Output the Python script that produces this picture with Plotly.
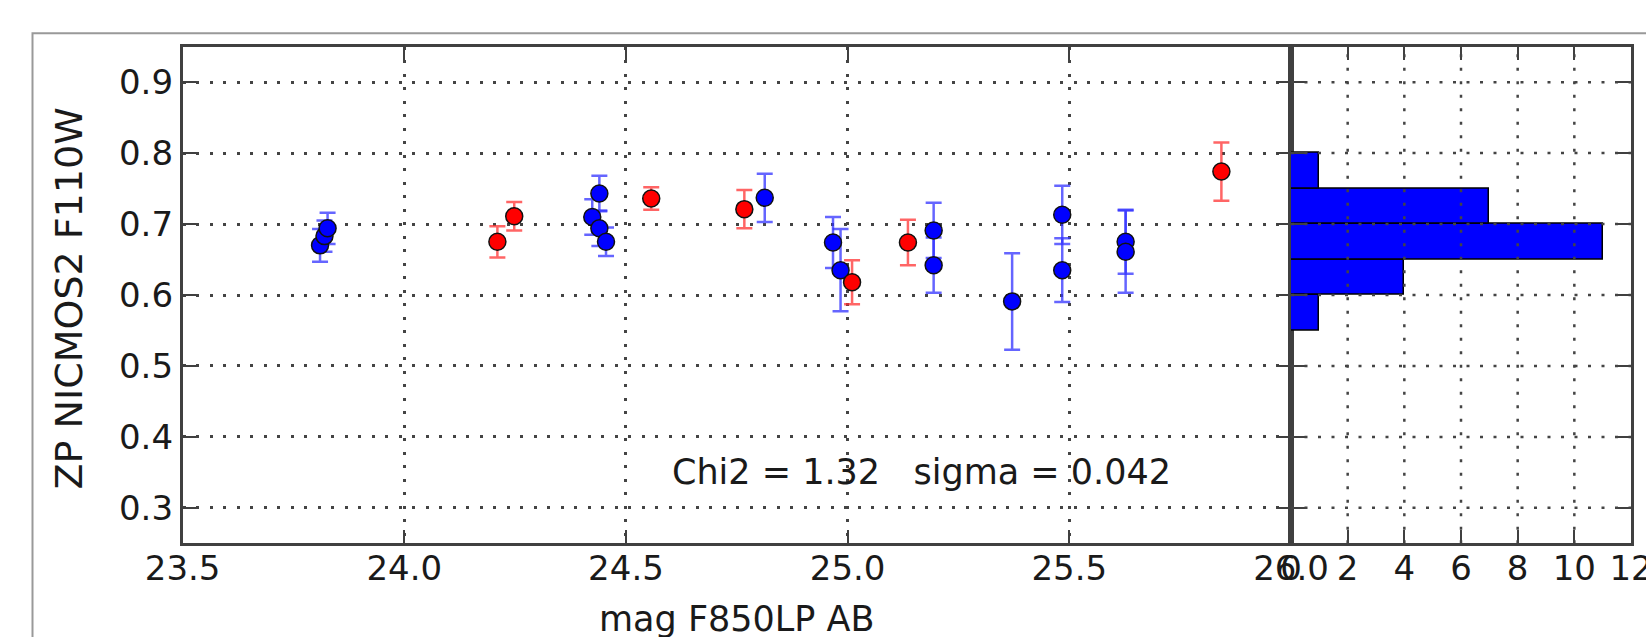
import plotly.graph_objects as go

# ---------------- data ----------------
blue_mag = [23.810, 23.820, 23.827, 24.424, 24.440, 24.440, 24.455, 24.813,
            24.967, 24.984, 25.194, 25.194, 25.371, 25.484, 25.484, 25.627, 25.627]
blue_zp = [0.670, 0.683, 0.694, 0.710, 0.743, 0.694, 0.675, 0.737,
           0.674, 0.635, 0.691, 0.642, 0.591, 0.713, 0.635, 0.675, 0.661]
blue_err = [0.023, 0.022, 0.022, 0.025, 0.025, 0.025, 0.020, 0.034,
            0.036, 0.058, 0.039, 0.039, 0.068, 0.041, 0.045, 0.045, 0.058]

red_mag = [24.210, 24.248, 24.557, 24.767, 25.010, 25.136, 25.843]
red_zp = [0.675, 0.711, 0.736, 0.721, 0.618, 0.674, 0.774]
red_err = [0.022, 0.020, 0.016, 0.027, 0.031, 0.032, 0.041]

x_ticks = [23.5, 24.0, 24.5, 25.0, 25.5, 26.0]
y_ticks = [0.3, 0.4, 0.5, 0.6, 0.7, 0.8, 0.9]
hist_ticks = [0, 2, 4, 6, 8, 10, 12]
hist_bin_start, hist_bin_end, hist_bin_size = 0.55, 0.80, 0.05

stats_text = "Chi2 = 1.32\u00a0\u00a0\u00a0sigma = 0.042"
x_title = "mag F850LP AB"
y_title = "ZP NICMOS2 F110W"

# ---------------- layout helpers ----------------
W, H = 1646, 637


def px(x):
    return x / W


def py(y):
    return 1 - y / H


FONT = "DejaVu Sans"
TXT = "#1a1a1a"
DOT = "3px,10.5px"
GRIDC = "#444444"

fig = go.Figure()

fig.add_trace(go.Scatter(
    x=blue_mag, y=blue_zp, mode="markers",
    marker=dict(size=17, color="#0000ff", line=dict(color="#111111", width=1.5)),
    error_y=dict(type="data", array=blue_err, color="rgba(50,50,255,0.75)",
                 thickness=2.5, width=8),
    xaxis="x", yaxis="y", showlegend=False))

fig.add_trace(go.Scatter(
    x=red_mag, y=red_zp, mode="markers",
    marker=dict(size=17, color="#ff0000", line=dict(color="#111111", width=1.5)),
    error_y=dict(type="data", array=red_err, color="rgba(255,50,50,0.75)",
                 thickness=2.5, width=8),
    xaxis="x", yaxis="y", showlegend=False))

fig.add_trace(go.Histogram(
    y=blue_zp + red_zp, orientation="h",
    ybins=dict(start=hist_bin_start, end=hist_bin_end, size=hist_bin_size),
    marker=dict(color="#0000ff", line=dict(color="#000000", width=1.5)),
    xaxis="x2", yaxis="y2", showlegend=False))

common = dict(showline=True, linecolor="#404040", linewidth=2.5, mirror="allticks",
              ticks="inside", ticklen=14, tickwidth=1.5, tickcolor="#404040",
              tickfont=dict(family=FONT, size=34, color=TXT),
              zeroline=False, automargin=False, ticklabeloverflow="allow")

y_dom = [py(543.3), py(46.7)]

fig.update_layout(
    template="none",
    width=W, height=H,
    margin=dict(l=0, r=0, t=0, b=0, pad=0),
    paper_bgcolor="white", plot_bgcolor="white",
    xaxis=dict(domain=[px(182.6), px(1291)], range=[23.5, 26.0], tickvals=x_ticks,
               tickformat=".1f", anchor="y", showgrid=True, gridcolor=GRIDC,
               gridwidth=2.5, griddash=DOT, ticklabelstandoff=-7, **common),
    yaxis=dict(domain=y_dom, range=[0.25, 0.95], tickvals=y_ticks, tickformat=".1f",
               anchor="x", showgrid=True, gridcolor=GRIDC, gridwidth=2.5,
               griddash=DOT, **common),
    xaxis2=dict(domain=[px(1291), px(1631)], range=[0, 12], tickvals=hist_ticks,
                anchor="y2", showgrid=False, ticklabelstandoff=-7, **common),
    yaxis2=dict(domain=y_dom, range=[0.25, 0.95], tickvals=y_ticks, anchor="x2",
                showticklabels=False, showgrid=False, **common),
    bargap=0,
)

shapes = []
# outer figure frame
shapes.append(dict(type="rect", xref="paper", yref="paper", x0=px(32.5), x1=1.2,
                   y0=-0.2, y1=py(33.3), line=dict(color="#999999", width=2),
                   layer="below"))
# histogram grid drawn above the bars
for v in hist_ticks[1:-1]:
    shapes.append(dict(type="line", xref="x2", yref="y2", x0=v, x1=v, y0=0.25, y1=0.95,
                       line=dict(color=GRIDC, width=2.5, dash=DOT), layer="above"))
for v in y_ticks:
    shapes.append(dict(type="line", xref="x2", yref="y2", x0=0, x1=12, y0=v, y1=v,
                       line=dict(color=GRIDC, width=2.5, dash=DOT), layer="above"))
fig.update_layout(shapes=shapes)

fig.add_annotation(x=24.6, y=0.35, xref="x", yref="y", text=stats_text,
                   showarrow=False, xanchor="left", yanchor="middle",
                   font=dict(family=FONT, size=35, color=TXT))
fig.add_annotation(x=px(736.7), y=py(619), xref="paper", yref="paper", text=x_title,
                   showarrow=False, xanchor="center", yanchor="middle",
                   font=dict(family=FONT, size=35, color=TXT))
fig.add_annotation(x=px(68), y=py(298.5), xref="paper", yref="paper", text=y_title,
                   showarrow=False, xanchor="center", yanchor="middle", textangle=-90,
                   font=dict(family=FONT, size=38, color=TXT))

fig.write_html("out.html", config={"displayModeBar": False},
               post_script="document.body.style.margin='0';document.body.style.overflow='hidden';")
